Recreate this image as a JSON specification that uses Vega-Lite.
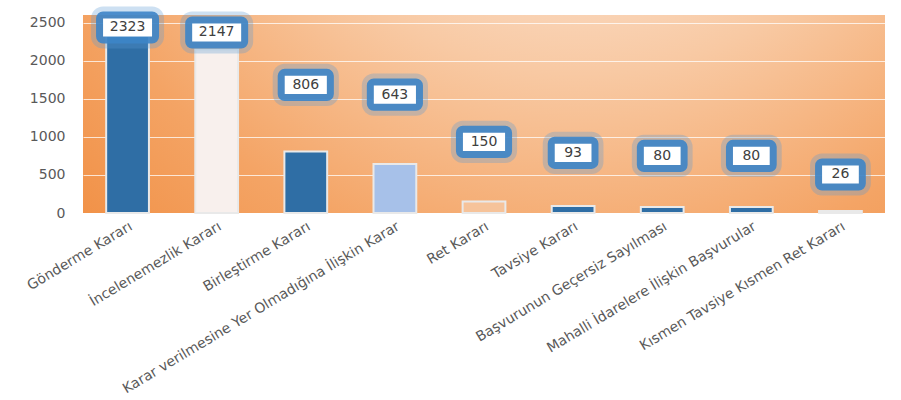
{
  "$schema": "https://vega.github.io/schema/vega-lite/v6.json",
  "width": 802,
  "height": 198,
  "autosize": "none",
  "padding": {"left": 83, "top": 15, "right": 16, "bottom": 187},
  "background": "#ffffff",
  "config": {
    "view": {
      "stroke": null,
      "fill": {
        "gradient": "radial",
        "x1": 0.62, "y1": 0, "r1": 0,
        "x2": 0.62, "y2": 0, "r2": 1.0,
        "stops": [
          {"offset": 0, "color": "#fefaf6"},
          {"offset": 0.2, "color": "#fce8da"},
          {"offset": 0.45, "color": "#f8c9a3"},
          {"offset": 0.7, "color": "#f4a465"},
          {"offset": 0.95, "color": "#f08b3d"},
          {"offset": 1, "color": "#ee8535"}
        ]
      }
    },
    "font": "DejaVu Sans"
  },
  "data": {
    "values": [
      {"category": "Gönderme Kararı", "value": 2323},
      {"category": "İncelenemezlik Kararı", "value": 2147},
      {"category": "Birleştirme Kararı", "value": 806},
      {"category": "Karar verilmesine Yer Olmadığına İlişkin Karar", "value": 643},
      {"category": "Ret Kararı", "value": 150},
      {"category": "Tavsiye Kararı", "value": 93},
      {"category": "Başvurunun Geçersiz Sayılması", "value": 80},
      {"category": "Mahalli İdarelere İlişkin Başvurular", "value": 80},
      {"category": "Kısmen Tavsiye Kısmen Ret Kararı", "value": 26}
    ]
  },
  "transform": [
    {"calculate": "2500 * pow(datum.value / 2500, 0.35)", "as": "labelY"},
    {"calculate": "length(toString(datum.value))", "as": "digits"}
  ],
  "encoding": {
    "x": {
      "field": "category",
      "type": "nominal",
      "sort": null,
      "scale": {"paddingInner": 0.52, "paddingOuter": 0.26},
      "axis": {
        "title": null,
        "domain": false,
        "ticks": false,
        "labelAngle": -31,
        "labelAlign": "right",
        "labelBaseline": "top",
        "labelPadding": 6,
        "labelFontSize": 14,
        "labelColor": "#595959",
        "labelLimit": 400
      }
    }
  },
  "layer": [
    {
      "mark": {"type": "bar", "stroke": "#e9e9e9", "strokeWidth": 2},
      "encoding": {
        "y": {
          "field": "value",
          "type": "quantitative",
          "scale": {"domain": [0, 2500]},
          "axis": {
            "title": null,
            "domain": false,
            "ticks": false,
            "values": [0, 500, 1000, 1500, 2000, 2500],
            "format": "d",
            "labelFontSize": 14,
            "labelColor": "#595959",
            "labelPadding": 18,
            "gridColor": "#ffffff",
            "gridOpacity": 0.75,
            "gridWidth": 1
          }
        },
        "color": {
          "field": "category",
          "type": "nominal",
          "legend": null,
          "scale": {
            "domain": [
              "Gönderme Kararı",
              "İncelenemezlik Kararı",
              "Birleştirme Kararı",
              "Karar verilmesine Yer Olmadığına İlişkin Karar",
              "Ret Kararı",
              "Tavsiye Kararı",
              "Başvurunun Geçersiz Sayılması",
              "Mahalli İdarelere İlişkin Başvurular",
              "Kısmen Tavsiye Kısmen Ret Kararı"
            ],
            "range": ["#2f6ea5", "#f8f0ed", "#2f6ea5", "#a7c1e9", "#f6c39a", "#2f6ea5", "#2f6ea5", "#2f6ea5", "#e6edf7"]
          }
        }
      }
    },
    {
      "mark": {"type": "point", "filled": true, "size": 2400, "color": "#5b9bd5", "stroke": "#5b9bd5", "strokeWidth": 24, "strokeJoin": "round", "opacity": 0.3},
      "encoding": {
        "y": {"field": "labelY", "type": "quantitative", "axis": {"title": null, "domain": false, "ticks": false, "values": [0, 500, 1000, 1500, 2000, 2500], "format": "d", "labelFontSize": 14, "labelColor": "#595959", "labelPadding": 18, "gridColor": "#ffffff", "gridOpacity": 0.75, "gridWidth": 1}},
        "shape": {
          "field": "digits", "type": "nominal", "legend": null,
          "scale": {"domain": [2, 3, 4], "range": ["M-0.75,-0.37H0.75V0.37H-0.75Z", "M-0.86,-0.37H0.86V0.37H-0.86Z", "M-1,-0.37H1V0.37H-1Z"]}
        }
      }
    },
    {
      "mark": {"type": "point", "filled": true, "size": 2400, "color": "#3d85c8", "stroke": "#3d85c8", "strokeWidth": 14, "strokeJoin": "round", "opacity": 0.9},
      "encoding": {
        "y": {"field": "labelY", "type": "quantitative", "axis": {"title": null, "domain": false, "ticks": false, "values": [0, 500, 1000, 1500, 2000, 2500], "format": "d", "labelFontSize": 14, "labelColor": "#595959", "labelPadding": 18, "gridColor": "#ffffff", "gridOpacity": 0.75, "gridWidth": 1}},
        "shape": {"field": "digits", "type": "nominal", "legend": null}
      }
    },
    {
      "mark": {"type": "point", "filled": true, "size": 2400, "color": "#ffffff", "opacity": 1},
      "encoding": {
        "y": {"field": "labelY", "type": "quantitative", "axis": {"title": null, "domain": false, "ticks": false, "values": [0, 500, 1000, 1500, 2000, 2500], "format": "d", "labelFontSize": 14, "labelColor": "#595959", "labelPadding": 18, "gridColor": "#ffffff", "gridOpacity": 0.75, "gridWidth": 1}},
        "shape": {"field": "digits", "type": "nominal", "legend": null}
      }
    },
    {
      "mark": {"type": "text", "fontSize": 14, "color": "#404040", "baseline": "middle", "align": "center"},
      "encoding": {
        "y": {"field": "labelY", "type": "quantitative", "axis": {"title": null, "domain": false, "ticks": false, "values": [0, 500, 1000, 1500, 2000, 2500], "format": "d", "labelFontSize": 14, "labelColor": "#595959", "labelPadding": 18, "gridColor": "#ffffff", "gridOpacity": 0.75, "gridWidth": 1}},
        "text": {"field": "value", "type": "quantitative"}
      }
    }
  ]
}
